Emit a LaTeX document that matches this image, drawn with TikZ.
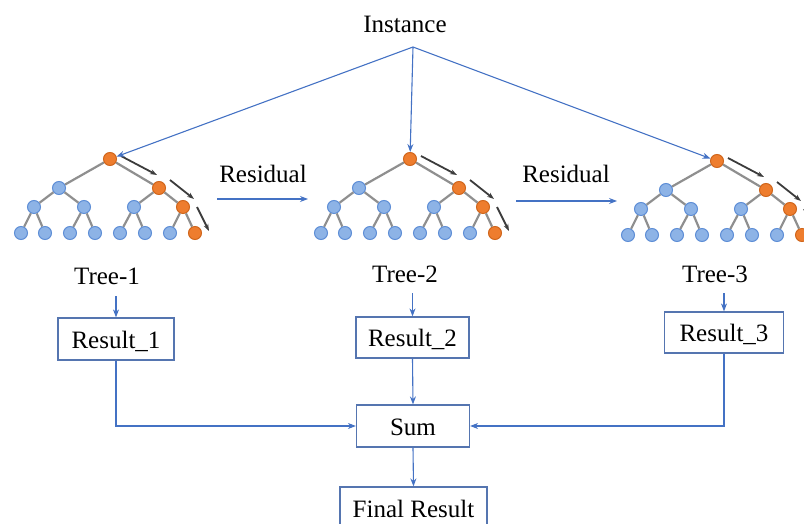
\documentclass[tikz,border=0pt]{standalone}
\usepackage{fontspec}
\setmainfont{Liberation Serif}
\usetikzlibrary{arrows.meta,positioning,calc}
\definecolor{lineblue}{HTML}{4472C4}
\definecolor{boxblue}{HTML}{5575B0}
\definecolor{nodeblue}{HTML}{8DB3E6}
\definecolor{nodeedge}{HTML}{5E8ED6}
\definecolor{nodeorange}{HTML}{EE7D2E}
\definecolor{orangeedge}{HTML}{D0661C}
\definecolor{branchgray}{HTML}{8F8F8F}
\definecolor{pathgray}{HTML}{3C3C3C}
\begin{document}
\begin{tikzpicture}[x=1pt,y=-1pt,>={Stealth[length=8pt,width=6pt]},
	txt/.style={font=\fontsize{25}{30}\selectfont,text=black,inner sep=0pt},
	box/.style={txt,draw=boxblue,line width=1.2pt,text height=18pt,text depth=0pt},
	link/.style={draw=lineblue,line width=1.1pt,->},
	leaf/.style={circle,draw=nodeedge,fill=nodeblue,line width=1pt,minimum size=13pt,inner sep=0pt},
	hot/.style={leaf,draw=orangeedge,fill=nodeorange},
	branch/.style={draw=branchgray,line width=2.2pt},
	gpath/.style={draw=pathgray,line width=1.8pt,-{Stealth[length=7pt,width=5pt]}}]
	\useasboundingbox (0,0) rectangle (804,524);
	% the three trees
	\foreach \n/\dx/\dy in {1/0/0,2/300/0,3/607/2}{
	\begin{scope}[shift={(\dx,\dy)}]
		\node[hot] (t\n-r) at (110,159) {};
		\node[leaf] (t\n-a) at (59,188) {};
		\node[hot] (t\n-b) at (159,188) {};
		\node[leaf] (t\n-c1) at (34,207) {};
		\node[leaf] (t\n-c2) at (84,207) {};
		\node[leaf] (t\n-c3) at (134,207) {};
		\node[hot] (t\n-c4) at (183,207) {};
		\foreach \i/\x/\s in {1/21/leaf,2/45/leaf,3/70/leaf,4/95/leaf,5/120/leaf,6/145/leaf,7/170/leaf,8/195/hot}
			\node[\s] (t\n-l\i) at (\x,233) {};
		\foreach \p/\c in {r/a,r/b,a/c1,a/c2,b/c3,b/c4,c1/l1,c1/l2,c2/l3,c2/l4,c3/l5,c3/l6,c4/l7,c4/l8}
			\draw[branch] (t\n-\p) -- (t\n-\c);
		\draw[gpath] (121,156) -- (157,175);
		\draw[gpath] (170,180) -- (194,199);
		\draw[gpath] (197,207) -- (209,231);
	\end{scope}
	}
	\node[txt,anchor=base] (inst) at (405,33) {Instance};
	\coordinate (apex) at (413,47);
	\draw[link] (apex) -- (t1-r);
	\draw[link] (apex) -- (t2-r);
	\draw[link] (apex) -- (t3-r);
	% residuals
	\node[txt,anchor=base] (res1) at (263,183) {Residual};
	\node[txt,anchor=base] (res2) at (566,183) {Residual};
	\coordinate (res1-from) at (217,199);
	\coordinate (res1-to) at (308,199);
	\coordinate (res2-from) at (516,201);
	\coordinate (res2-to) at (617,201);
	\draw[link] (res1-from) -- (res1-to);
	\draw[link] (res2-from) -- (res2-to);
	\node[txt,anchor=base] (tree1) at (107,284) {Tree-1};
	\node[txt,anchor=base] (tree2) at (405,283) {Tree-2};
	\node[txt,anchor=base] (tree3) at (715,283) {Tree-3};
	% results
	\node[box,minimum width=116pt,minimum height=42pt] (out1) at (116,339) {Result\_1};
	\node[box,minimum width=113pt,minimum height=41pt] (out2) at (412.5,337.5) {Result\_2};
	\node[box,minimum width=119pt,minimum height=41pt] (out3) at (724,332.5) {Result\_3};
	\node[box,minimum width=113pt,minimum height=42pt] (sum) at (413,426) {Sum};
	\node[box,minimum width=147pt,minimum height=43pt] (final) at (413.5,508.5) {Final Result};
	\draw[link] ($(out1.north |- tree1.base)+(0,12)$) -- (out1.north);
	\draw[link] ($(out2.north |- tree2.base)+(0,10)$) -- (out2.north);
	\draw[link] ($(out3.north |- tree3.base)+(0,10)$) -- (out3.north);
	\draw[link] (out1.south) |- (sum.west);
	\draw[link] (out3.south) |- (sum.east);
	\draw[link] (out2.south) -- (sum.north);
	\draw[link] (sum.south) -- (final.north);
\end{tikzpicture}
\end{document}
